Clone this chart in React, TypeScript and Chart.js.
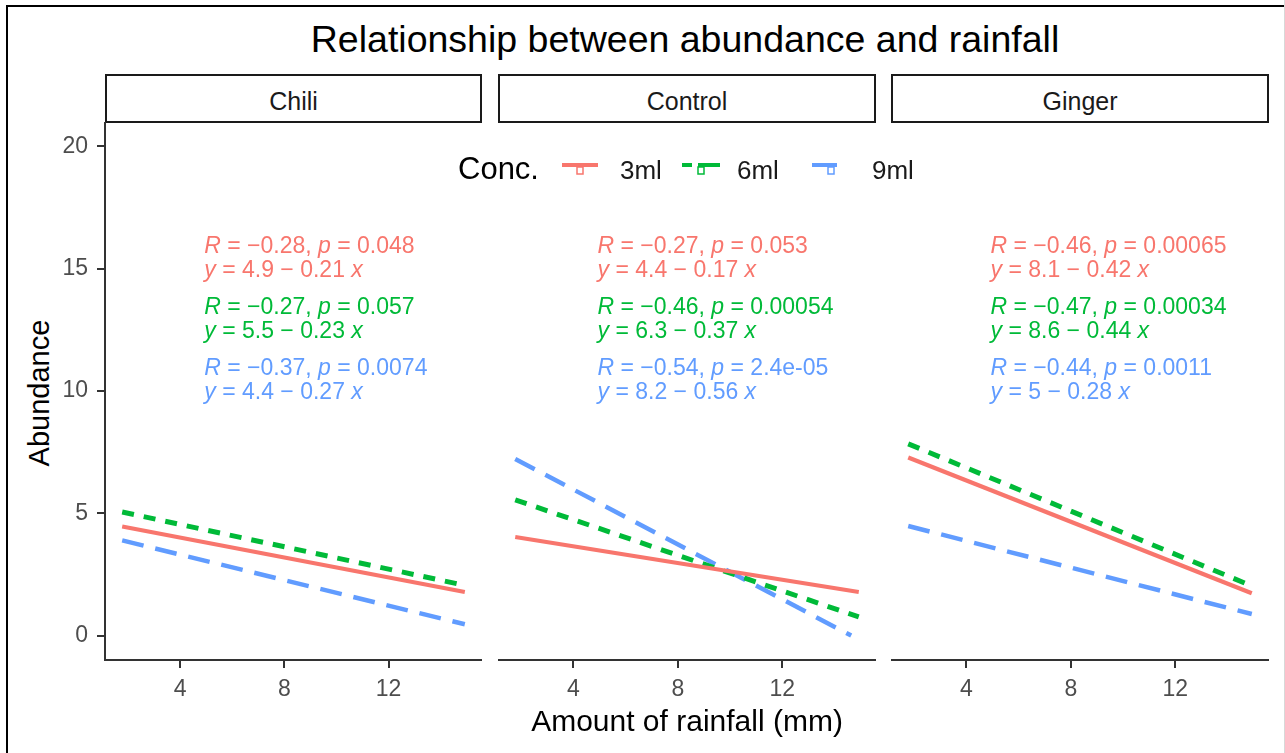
import React, { useEffect, useRef } from "react";
import { Chart, registerables } from "chart.js";
Chart.register(...registerables);

const FONT = '"Liberation Sans", Arial, Helvetica, sans-serif';

// ---- data ----
const panelNames = ["Chili", "Control", "Ginger"];
const concLabels = ["3ml", "6ml", "9ml"];
const concColors = ["#F8766D", "#00BA38", "#619CFF"];
const xTicks = [4, 8, 12];
const yTicks = [0, 5, 10, 15, 20];

// fitted regression lines (end points)
const fitX = [1.77, 14.93];
const chili3mlY = [4.46, 1.78];
const chili6mlY = [5.05, 2.05];
const chili9mlY = [3.89, 0.46];
const control3mlY = [4.03, 1.78];
const control6mlY = [5.55, 0.76];
const control9mlX = [1.77, 14.64];
const control9mlY = [7.22, 0.0];
const ginger3mlY = [7.28, 1.73];
const ginger6mlY = [7.84, 2.03];
const ginger9mlY = [4.48, 0.88];

// correlation / regression annotations
const chiliR = ["−0.28", "−0.27", "−0.37"];
const chiliP = ["0.048", "0.057", "0.0074"];
const chiliA = ["4.9", "5.5", "4.4"];
const chiliB = ["0.21", "0.23", "0.27"];
const controlR = ["−0.27", "−0.46", "−0.54"];
const controlP = ["0.053", "0.00054", "2.4e-05"];
const controlA = ["4.4", "6.3", "8.2"];
const controlB = ["0.17", "0.37", "0.56"];
const gingerR = ["−0.46", "−0.47", "−0.44"];
const gingerP = ["0.00065", "0.00034", "0.0011"];
const gingerA = ["8.1", "8.6", "5"];
const gingerB = ["0.42", "0.44", "0.28"];
const labelX = 5;
const statLabelY = [16, 13.5, 11];
const eqLabelY = [15, 12.5, 10];

const panelSeries = [
  { xs: [fitX, fitX, fitX], ys: [chili3mlY, chili6mlY, chili9mlY], R: chiliR, P: chiliP, A: chiliA, B: chiliB },
  { xs: [fitX, fitX, control9mlX], ys: [control3mlY, control6mlY, control9mlY], R: controlR, P: controlP, A: controlA, B: controlB },
  { xs: [fitX, fitX, fitX], ys: [ginger3mlY, ginger6mlY, ginger9mlY], R: gingerR, P: gingerP, A: gingerA, B: gingerB },
];

// ---- styles ----
const lineWidths = [4.2, 5, 4.5];
const lineDashes: number[][] = [[], [12, 10], [22, 12]];

// panel geometry
const panelLeft = [105, 498, 891];
const panelWidth = [377, 378, 378];
const panelTop = 122;
const panelHeight = 538;
const yAxisW = 45;
const xAxisH = 45;

function drawRich(ctx: CanvasRenderingContext2D, parts: [string, boolean][], x: number, y: number, size: number, color: string) {
  let cx = x;
  ctx.fillStyle = color;
  ctx.textBaseline = "middle";
  ctx.textAlign = "left";
  for (const [t, it] of parts) {
    ctx.font = `${it ? "italic " : ""}${size}px ${FONT}`;
    ctx.fillText(t, cx, y);
    cx += ctx.measureText(t).width;
  }
}

function zeroPad(sc: any) {
  sc.paddingTop = 0;
  sc.paddingBottom = 0;
  sc.paddingLeft = 0;
  sc.paddingRight = 0;
}

function Panel({ idx }: { idx: number }) {
  const ref = useRef<HTMLCanvasElement>(null);
  const showY = idx === 0;
  const cw = panelWidth[idx] + (showY ? yAxisW : 0);
  const ch = panelHeight + xAxisH;
  const left = panelLeft[idx] - (showY ? yAxisW : 0);

  useEffect(() => {
    const s = panelSeries[idx];
    const annot = {
      id: "annot" + idx,
      afterDatasetsDraw(chart: any) {
        const ctx = chart.ctx as CanvasRenderingContext2D;
        const xs = chart.scales.x;
        const ys = chart.scales.y;
        ctx.save();
        for (let i = 0; i < 3; i++) {
          const px = xs.getPixelForValue(labelX) - 2;
          drawRich(ctx, [["R", true], [" = " + s.R[i] + ", ", false], ["p", true], [" = " + s.P[i], false]], px, ys.getPixelForValue(statLabelY[i]) + 2, 23, concColors[i]);
          drawRich(ctx, [["y", true], [" = " + s.A[i] + " − " + s.B[i] + " ", false], ["x", true]], px, ys.getPixelForValue(eqLabelY[i]) + 2, 23, concColors[i]);
        }
        ctx.restore();
      },
    };
    const datasets = concLabels.map((lab, i) => ({
      label: lab,
      data: s.xs[i].map((xv: number, k: number) => ({ x: xv, y: s.ys[i][k] })),
      borderColor: concColors[i],
      backgroundColor: concColors[i],
      borderWidth: lineWidths[i],
      borderDash: lineDashes[i],
      borderCapStyle: "butt",
      pointRadius: 0,
      fill: false,
      tension: 0,
    }));
    const chart = new Chart(ref.current!, {
      type: "line",
      data: { datasets } as any,
      options: {
        animation: false,
        responsive: false,
        maintainAspectRatio: false,
        layout: { padding: 0 },
        plugins: { legend: { display: false }, tooltip: { enabled: false }, title: { display: false } },
        scales: {
          x: {
            type: "linear",
            min: 1.11,
            max: 15.59,
            afterBuildTicks: (sc: any) => { sc.ticks = xTicks.map((v) => ({ value: v })); },
            afterFit: (sc: any) => { sc.height = xAxisH; zeroPad(sc); },
            grid: { display: true, drawOnChartArea: false, drawTicks: true, tickLength: 8, color: "#333333", lineWidth: 2 },
            border: { display: true, color: "#333333", width: 2 },
            ticks: { color: "#4D4D4D", font: { family: FONT, size: 23 }, padding: 8, maxRotation: 0, autoSkip: false },
          },
          y: {
            type: "linear",
            min: -1,
            max: 21,
            display: showY,
            afterBuildTicks: (sc: any) => { sc.ticks = yTicks.map((v) => ({ value: v })); },
            afterFit: (sc: any) => { sc.width = showY ? yAxisW : 0; zeroPad(sc); },
            grid: { display: true, drawOnChartArea: false, drawTicks: true, tickLength: 8, color: "#333333", lineWidth: 2 },
            border: { display: true, color: "#333333", width: 2 },
            ticks: { color: "#4D4D4D", font: { family: FONT, size: 23 }, padding: 9, autoSkip: false },
          },
        },
      } as any,
      plugins: [annot],
    });
    return () => chart.destroy();
  }, [idx]);

  return (
    <canvas
      ref={ref}
      width={cw}
      height={ch}
      style={{ position: "absolute", left, top: panelTop, width: cw, height: ch }}
    />
  );
}

export default function App() {
  const text = (content: string, x: number, y: number, size: number, color = "#000", extra: any = {}) => (
    <div
      style={{
        position: "absolute",
        left: x,
        top: y,
        transform: "translate(-50%, -50%)",
        fontFamily: FONT,
        fontSize: size,
        lineHeight: 1,
        color,
        whiteSpace: "nowrap",
        ...extra,
      }}
    >
      {content}
    </div>
  );
  const leftText = (content: string, x: number, y: number, size: number, color = "#1A1A1A") => (
    <div
      style={{
        position: "absolute",
        left: x,
        top: y,
        transform: "translate(0, -50%)",
        fontFamily: FONT,
        fontSize: size,
        lineHeight: 1,
        color,
        whiteSpace: "nowrap",
      }}
    >
      {content}
    </div>
  );
  return (
    <div style={{ position: "absolute", left: 0, top: 0, width: 1285, height: 753, background: "#fff", overflow: "hidden" }}>
      <div style={{ position: "absolute", left: 6, top: 5, width: 1285, height: 760, borderTop: "2px solid #000", borderLeft: "2px solid #000" }} />
      <div style={{ position: "absolute", left: 1284, top: 0, width: 1, height: 753, background: "#d8d8d8" }} />
      {text("Relationship between abundance and rainfall", 685, 40, 37.5)}
      {panelNames.map((n, i) => (
        <div
          key={n}
          style={{
            position: "absolute",
            left: panelLeft[i],
            top: 74,
            width: panelWidth[i],
            height: 49,
            boxSizing: "border-box",
            border: "2.5px solid #1A1A1A",
            background: "#fff",
          }}
        />
      ))}
      {panelNames.map((n, i) => (
        <React.Fragment key={"t" + n}>{text(n, panelLeft[i] + panelWidth[i] / 2, 101, 25, "#1A1A1A")}</React.Fragment>
      ))}
      {[0, 1, 2].map((i) => (
        <Panel key={i} idx={i} />
      ))}
      {text("Abundance", 39, 393, 29, "#000", { transform: "translate(-50%, -50%) rotate(-90deg)" })}
      {text("Amount of rainfall (mm)", 687, 721, 30)}
      {/* legend */}
      {leftText("Conc.", 458, 168, 31, "#000")}
      <svg style={{ position: "absolute", left: 0, top: 0 }} width={1285} height={753}>
        <line x1={562} y1={165} x2={598} y2={165} stroke={concColors[0]} strokeWidth={4} />
        <rect x={577} y={167} width={6} height={7} fill="#fff" stroke={concColors[0]} strokeWidth={1.5} />
        <line x1={682} y1={165} x2={692} y2={165} stroke={concColors[1]} strokeWidth={4} />
        <line x1={698} y1={165} x2={720} y2={165} stroke={concColors[1]} strokeWidth={4} />
        <rect x={698} y={167} width={6} height={7} fill="#fff" stroke={concColors[1]} strokeWidth={1.5} />
        <line x1={812} y1={165} x2={837} y2={165} stroke={concColors[2]} strokeWidth={4} />
        <rect x={828} y={167} width={6} height={7} fill="#fff" stroke={concColors[2]} strokeWidth={1.5} />
      </svg>
      {leftText(concLabels[0], 620, 170, 26)}
      {leftText(concLabels[1], 737, 170, 26)}
      {leftText(concLabels[2], 872, 170, 26)}
    </div>
  );
}
